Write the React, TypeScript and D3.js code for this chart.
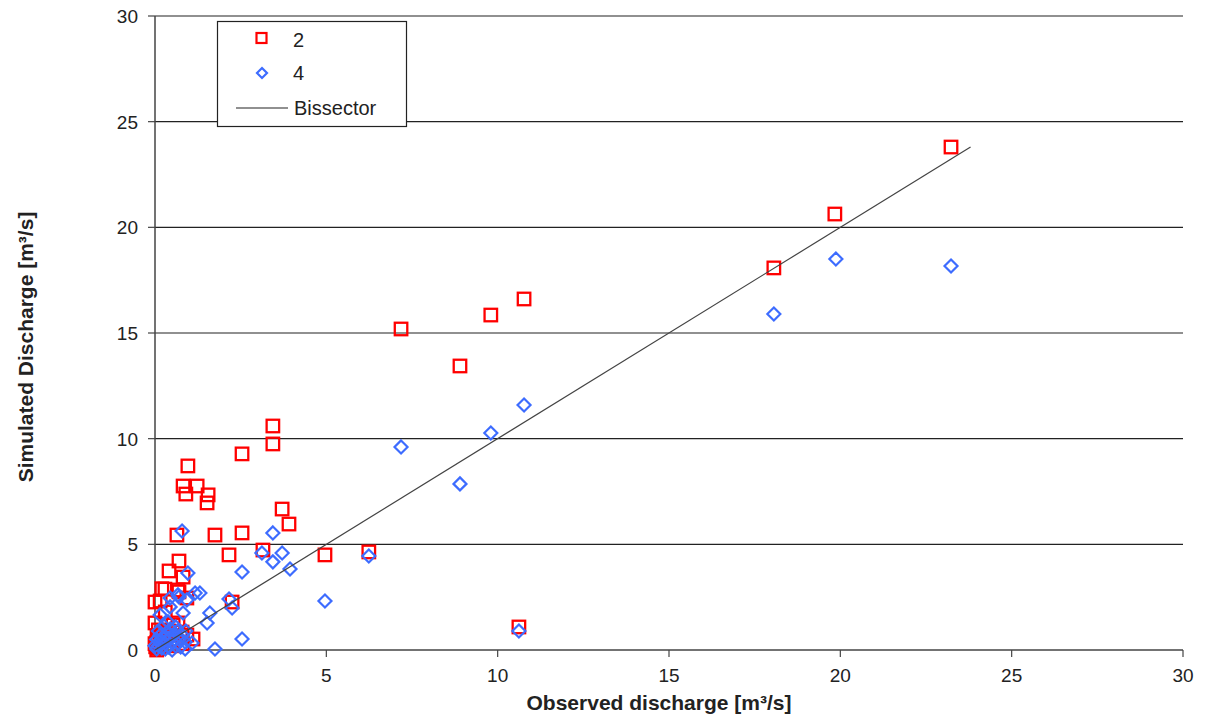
import React from "react";
import * as d3 from "d3";

const xTicks = [0, 5, 10, 15, 20, 25, 30];
const yTicks = [0, 5, 10, 15, 20, 25, 30];

// Series "2" (red squares): [observed, simulated]
const series2: [number, number][] = [
  [23.23, 23.8], [19.84, 20.63], [18.06, 18.08], [10.77, 16.61], [9.8, 15.85],
  [7.18, 15.19], [8.9, 13.44], [3.44, 10.6], [3.44, 9.75], [2.54, 9.28],
  [0.96, 8.71], [0.82, 7.76], [1.23, 7.76], [0.9, 7.38], [1.55, 7.34],
  [1.52, 6.96], [3.71, 6.67], [3.91, 5.96], [0.64, 5.44], [1.75, 5.44],
  [2.54, 5.54], [2.16, 4.5], [3.15, 4.73], [4.96, 4.5], [6.24, 4.64],
  [0.7, 4.21], [0.82, 3.45], [0.41, 3.74], [2.25, 2.27], [0.29, 2.88],
  [0.67, 2.84], [0.2, 2.9], [0.7, 2.75], [0.93, 2.46], [0.0, 2.27],
  [0.15, 2.32], [0.3, 1.8], [0.53, 1.18], [0.0, 1.28], [0.67, 1.28],
  [0.79, 0.85], [1.11, 0.52], [0.93, 0.71], [0.06, 0.62], [10.62, 1.09],
  [0.0, 0.3], [0.1, 0.1], [0.3, 0.5], [0.5, 0.2], [0.2, 0.8],
  [0.4, 0.9], [0.6, 0.5], [0.8, 0.3], [0.15, 0.4], [0.05, 0.0],
  [0.02, 0.15], [0.05, 0.35], [0.1, 0.95],
];

// Series "4" (blue diamonds)
const series4: [number, number][] = [
  [23.23, 18.17], [19.87, 18.5], [18.06, 15.9], [10.77, 11.59], [9.8, 10.27],
  [7.18, 9.61], [8.9, 7.86], [6.24, 4.45], [4.96, 2.32], [10.62, 0.9],
  [3.44, 5.54], [3.12, 4.59], [3.71, 4.59], [3.44, 4.17], [3.94, 3.83],
  [2.54, 3.69], [1.31, 2.7], [2.16, 2.41], [2.25, 1.99], [1.6, 1.75],
  [1.52, 1.28], [2.54, 0.52], [1.75, 0.05], [0.79, 5.63], [0.96, 3.64],
  [0.7, 2.51], [0.93, 2.37], [0.44, 2.04], [0.82, 1.75], [0.15, 1.66],
  [0.38, 1.33], [1.17, 2.7], [0.67, 2.61], [0.88, 0.38], [1.08, 0.33],
  [0.88, 0.05], [0.44, 2.46], [0.26, 1.14],
  [0.05, 0.05], [0.1, 0.2], [0.2, 0.1], [0.3, 0.3], [0.15, 0.45],
  [0.4, 0.15], [0.5, 0.4], [0.25, 0.6], [0.6, 0.2], [0.35, 0.8],
  [0.7, 0.5], [0.55, 0.7], [0.1, 0.9], [0.45, 1.0], [0.65, 0.9],
  [0.8, 0.7], [0.2, 0.3], [0.05, 0.5], [0.3, 0.05], [0.75, 0.15],
  [0.6, 1.1], [0.4, 0.55], [0.15, 0.7], [0.0, 0.2], [0.9, 0.9], [0.5, 0.0],
];

const bissector: [number, number][] = [[0, 0], [23.8, 23.8]];

const legendLabels = ["2", "4", "Bissector"];

const RED = "#ff0000";
const BLUE = "#3d6cff";
const FONT = "Liberation Sans, Arial, sans-serif";

export default function App() {
  const W = 1205, H = 717;
  const x = d3.scaleLinear().domain([0, 30]).range([155, 1183]);
  const y = d3.scaleLinear().domain([0, 30]).range([650, 16]);
  const line = d3.line<[number, number]>().x(d => x(d[0])).y(d => y(d[1]));
  const sq = 12.5;
  const dia = 6.5;
  const diamondPath = (cx: number, cy: number, r: number) =>
    `M${cx},${cy - r}L${cx + r},${cy}L${cx},${cy + r}L${cx - r},${cy}Z`;

  return (
    <svg width={W} height={H} style={{ position: "absolute", left: 0, top: 0, background: "#fff" }} fontFamily={FONT}>
      <rect x={0} y={0} width={W} height={H} fill="#fff" />
      {/* gridlines */}
      {yTicks.filter(t => t > 0).map(t => (
        <line key={"g" + t} x1={x(0)} x2={x(30)} y1={y(t)} y2={y(t)} stroke="#222" strokeWidth={1.2} />
      ))}
      {/* axes */}
      <line x1={x(0)} x2={x(0)} y1={y(0)} y2={y(30)} stroke="#444" strokeWidth={1.5} />
      <line x1={x(0)} x2={x(30)} y1={y(0)} y2={y(0)} stroke="#444" strokeWidth={1.5} />
      {yTicks.map(t => (
        <g key={"yt" + t}>
          <line x1={x(0) - 7} x2={x(0)} y1={y(t)} y2={y(t)} stroke="#444" strokeWidth={1.2} />
          <text x={138} y={y(t)} dy="0.36em" textAnchor="end" fontSize={19} fill="#222">{t}</text>
        </g>
      ))}
      {xTicks.map(t => (
        <g key={"xt" + t}>
          <line x1={x(t)} x2={x(t)} y1={y(0)} y2={y(0) + 7} stroke="#444" strokeWidth={1.2} />
          <text x={x(t)} y={682} textAnchor="middle" fontSize={19} fill="#222">{t}</text>
        </g>
      ))}
      {/* axis titles */}
      <text x={659} y={710} textAnchor="middle" fontSize={21} fontWeight="bold" fill="#222">
        Observed discharge [m³/s]
      </text>
      <text transform={`translate(33,347) rotate(-90)`} textAnchor="middle" fontSize={21} fontWeight="bold" fill="#222">
        Simulated Discharge [m³/s]
      </text>
      {/* series 2 */}
      {series2.map((d, i) => (
        <rect key={"r" + i} x={x(d[0]) - sq / 2} y={y(d[1]) - sq / 2} width={sq} height={sq}
          fill="none" stroke={RED} strokeWidth={2.3} />
      ))}
      {/* series 4 */}
      {series4.map((d, i) => (
        <path key={"b" + i} d={diamondPath(x(d[0]), y(d[1]), dia)} fill="none" stroke={BLUE} strokeWidth={2.2} />
      ))}
      {/* bissector */}
      <path d={line(bissector) || ""} fill="none" stroke="#444" strokeWidth={1.2} />
      {/* legend */}
      <rect x={217.5} y={21.5} width={189} height={105} fill="#fff" stroke="#222" strokeWidth={1.2} />
      <rect x={256.5} y={33} width={10} height={10} fill="none" stroke={RED} strokeWidth={2.2} />
      <text x={293} y={47} fontSize={20} fill="#222">{legendLabels[0]}</text>
      <path d={diamondPath(262, 73, 5)} fill="none" stroke={BLUE} strokeWidth={2.2} />
      <text x={293} y={80} fontSize={20} fill="#222">{legendLabels[1]}</text>
      <line x1={236} x2={288} y1={108} y2={108} stroke="#222" strokeWidth={1.2} />
      <text x={294} y={115} fontSize={20} fill="#222">{legendLabels[2]}</text>
    </svg>
  );
}
